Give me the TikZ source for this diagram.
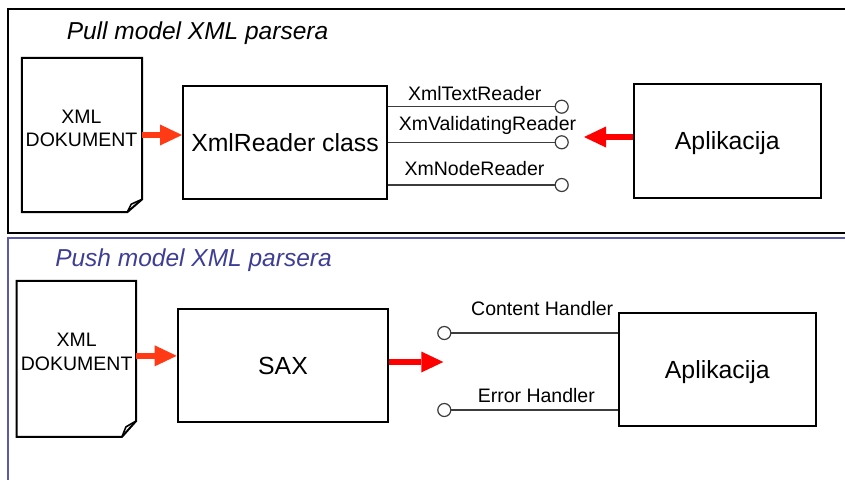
\documentclass[tikz,border=0pt]{standalone}
\usepackage{fontspec}
\setmainfont{Liberation Sans}
\usetikzlibrary{arrows.meta}

\definecolor{pushblue}{RGB}{90,90,170}
\definecolor{titleblue}{RGB}{62,62,150}
\definecolor{pullred}{RGB}{255,0,0}
\definecolor{docred}{RGB}{255,58,20}
\definecolor{wire}{RGB}{60,60,60}

\tikzset{
  blockbox/.style={draw=black, line width=2pt, inner sep=0pt, text depth=0pt,
    font=\fontsize{24.8}{28}\selectfont},
  docshape/.style={inner sep=0pt},
  docline/.style={draw=black, line width=2pt, line join=miter, fill=white},
  doctext/.style={align=center, inner sep=0pt, font=\fontsize{19.5}{23.4}\selectfont},
  portlabel/.style={anchor=base, inner sep=0pt, font=\fontsize{19.5}{22}\selectfont},
  sectiontitle/.style={anchor=base, inner sep=0pt, font=\fontsize{24.5}{28}\selectfont\itshape},
  port/.style={circle, draw=wire, line width=1.2pt, fill=white, minimum size=13pt, inner sep=0pt},
  wireline/.style={draw=wire, line width=1.2pt},
  fatarrow/.style={line width=6.5pt, -{Triangle[length=22pt,width=21pt,line width=0pt]}},
}

\begin{document}
\begin{tikzpicture}[x=1pt,y=-1pt]
\path[use as bounding box, clip] (0,0) rectangle (845,479);
\fill[white] (0,0) rectangle (845,479);

% ---------- section frames ----------
\draw[black, line width=2.5pt] (860,9) -- (8,9) -- (8,233) -- (860,233);
\draw[pushblue, line width=2pt] (860,238) -- (8,238) -- (8,490);

% ================= Pull model =================
\node[sectiontitle] (pulltitle) at (197.5,39) {Pull model XML parsera};

% document sheet
\node[docshape, minimum width=120pt, minimum height=154pt] (doc1) at (82,135) {};
\draw[docline] (doc1.north west) -- (doc1.north east) -- ([yshift=13pt]doc1.south east)
  -- ([xshift=-15pt]doc1.south east) -- (doc1.south west) -- cycle;
\draw[black, line width=1.6pt, line join=round]
  ([xshift=-15pt]doc1.south east) -- ++(4,-8) -- ([yshift=13pt]doc1.south east);
\node[doctext] (doc1txt) at (81.5,128.4) {XML\\DOKUMENT};

\node[blockbox, minimum width=204pt, minimum height=113pt] (xr) at (285,142.5) {XmlReader class};
\node[blockbox, minimum width=186.7pt, minimum height=113.7pt] (app1) at (727.3,140.9) {Aplikacija};

% reader ports
\node[port] (p1) at (561.7,106.7) {};
\node[port] (p2) at (561.7,142.3) {};
\node[port] (p3) at (561.7,185) {};
\draw[wireline] (p1.west -| xr.east) -- (p1.west);
\draw[wireline] (p2.west -| xr.east) -- (p2.west);
\draw[wireline] (p3.west -| xr.east) -- (p3.west);
\node[portlabel] (l1) at (474.7,100.7) {XmlTextReader};
\node[portlabel] (l2) at (487.5,130.7) {XmValidatingReader};
\node[portlabel] (l3) at (474.5,175) {XmNodeReader};

% arrows
\draw[fatarrow, docred] (doc1.east) -- (doc1.east -| xr.west);
\coordinate (pulltip) at (584,137);
\draw[fatarrow, pullred] (app1.west |- pulltip) -- (pulltip);

% ================= Push model =================
\node[sectiontitle, text=titleblue] (pushtitle) at (193.5,266) {Push model XML parsera};

\node[docshape, minimum width=119.3pt, minimum height=155.7pt] (doc2) at (76.35,358.85) {};
\draw[docline] (doc2.north west) -- (doc2.north east) -- ([yshift=16pt]doc2.south east)
  -- ([xshift=-14.3pt]doc2.south east) -- (doc2.south west) -- cycle;
\draw[black, line width=1.6pt, line join=round]
  ([xshift=-14.3pt]doc2.south east) -- ++(4,-10) -- ([yshift=16pt]doc2.south east);
\node[doctext] (doc2txt) at (76.7,351.9) {XML\\DOKUMENT};

\node[blockbox, minimum width=210.6pt, minimum height=113.3pt] (sax) at (283,365.7) {SAX};
\node[blockbox, minimum width=196.7pt, minimum height=113pt] (app2) at (717.3,369.2) {Aplikacija};

% handler ports
\node[port] (h1) at (444.3,333) {};
\node[port] (h2) at (444.3,410) {};
\draw[wireline] (h1.east) -- (h1.east -| app2.west);
\draw[wireline] (h2.east) -- (h2.east -| app2.west);
\node[portlabel] (hl1) at (542.2,315) {Content Handler};
\node[portlabel] (hl2) at (536.3,402.7) {Error Handler};

% arrows
\draw[fatarrow, docred] ([yshift=3pt]doc2.east) -- ([yshift=3pt]doc2.east -| sax.west);
\coordinate (pushtip) at (443.3,362);
\draw[fatarrow, pullred] (sax.east |- pushtip) -- (pushtip);
\end{tikzpicture}
\end{document}
